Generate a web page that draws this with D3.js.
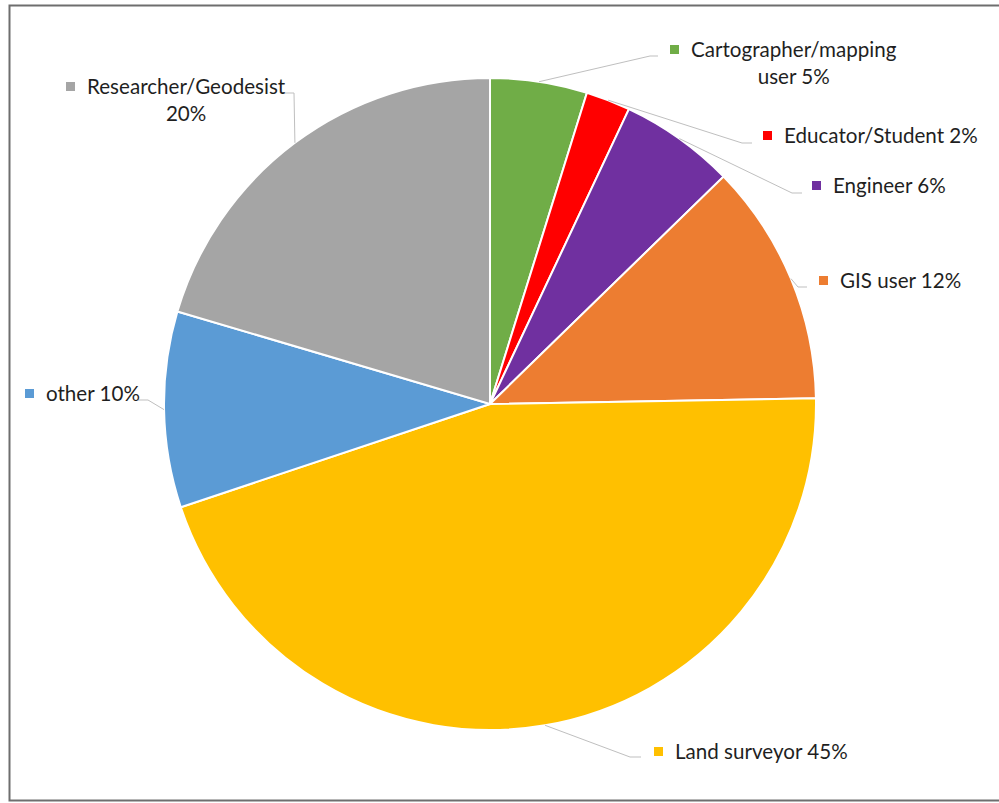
<!DOCTYPE html>
<html>
<head>
<meta charset="utf-8">
<script src="https://cdn.jsdelivr.net/npm/d3@7"></script>
<style>
  body { margin: 0; background: #fff; }
  text { font-family: Lato, "Open Sans", sans-serif; font-size: 20.6px; fill: #1f1f1f; }
</style>
</head>
<body>
<div id="chart"></div>
<script>
// slices in clockwise order from 12 o'clock
const categories = ['Cartographer/mapping user', 'Educator/Student', 'Engineer', 'GIS user',
                    'Land surveyor', 'other', 'Researcher/Geodesist']
const shares = [4.8, 2.2, 5.7, 12.0, 45.1, 9.7, 20.4]
const percentLabels = ['5%', '2%', '6%', '12%', '45%', '10%', '20%']
const colors = ['#70AD47', '#FF0000', '#7030A0', '#ED7D31', '#FFC000', '#5B9BD5', '#A5A5A5']

// where the original wraps a label (index into the words of "category pct")
const wrapAfter = [1, null, null, null, null, null, 1]

// label placement: elbow of the leader, end of the leader, text start and baseline
const labelPos = [
    { ex: 650, ey: 56, hx: 658, tx: 691, ty: 57 },
    { ex: 742, ey: 143, hx: 752, tx: 784, ty: 143 },
    { ex: 792, ey: 193, hx: 802, tx: 833, ty: 193 },
    { ex: 798, ey: 287, hx: 807, tx: 840, ty: 288 },
    { ex: 630, ey: 757, hx: 641, tx: 675, ty: 759 },
    { ex: 148, ey: 400, hx: 138, tx: 46, ty: 401 },
    { ex: 294, ey: 93, hx: 283, tx: 87, ty: 94 }
]

const width = 999
const height = 803
const cx = 490
const cy = 404
const radius = 326

const svg = d3.select('#chart')
    .append('svg')
    .attr('width', width)
    .attr('height', height)

// chart area frame
svg.append('rect')
    .attr('x', 9.5)
    .attr('y', 5.5)
    .attr('width', 1000)
    .attr('height', 795)
    .attr('fill', 'none')
    .attr('stroke', '#6e6e6e')
    .attr('stroke-width', 2)

const pie = d3.pie().sort(null).value(d => d)
const arcs = pie(shares)
const arcGen = d3.arc().innerRadius(0).outerRadius(radius)

const g = svg.append('g').attr('transform', `translate(${cx},${cy})`)

g.selectAll('path')
    .data(arcs)
    .enter()
    .append('path')
    .attr('d', arcGen)
    .attr('fill', (d, i) => colors[i])
    .attr('stroke', '#fff')
    .attr('stroke-width', 2)

// leader lines from slice mid-angle on the rim
const leaders = svg.append('g')
arcs.forEach((d, i) => {
    const a = (d.startAngle + d.endAngle) / 2
    const px = cx + radius * Math.sin(a)
    const py = cy - radius * Math.cos(a)
    const p = labelPos[i]
    leaders.append('polyline')
        .attr('points', `${px},${py} ${p.ex},${p.ey} ${p.hx},${p.ey}`)
        .attr('fill', 'none')
        .attr('stroke', '#bfbfbf')
        .attr('stroke-width', 1)
})

// labels with colour keys
const labels = svg.append('g')
categories.forEach((name, i) => {
    const p = labelPos[i]
    const words = (name + ' ' + percentLabels[i]).split(' ')
    const lines = wrapAfter[i] == null
        ? [words.join(' ')]
        : [words.slice(0, wrapAfter[i]).join(' '), words.slice(wrapAfter[i]).join(' ')]

    labels.append('rect')
        .attr('x', p.tx - 21)
        .attr('y', p.ty - 12)
        .attr('width', 9)
        .attr('height', 9)
        .attr('fill', colors[i])

    const first = labels.append('text')
        .attr('x', p.tx)
        .attr('y', p.ty)
        .text(lines[0])

    if (lines.length > 1) {
        const w = first.node().getComputedTextLength()
        labels.append('text')
            .attr('x', p.tx + w / 2)
            .attr('y', p.ty + 27)
            .attr('text-anchor', 'middle')
            .text(lines[1])
    }
})
</script>
</body>
</html>
